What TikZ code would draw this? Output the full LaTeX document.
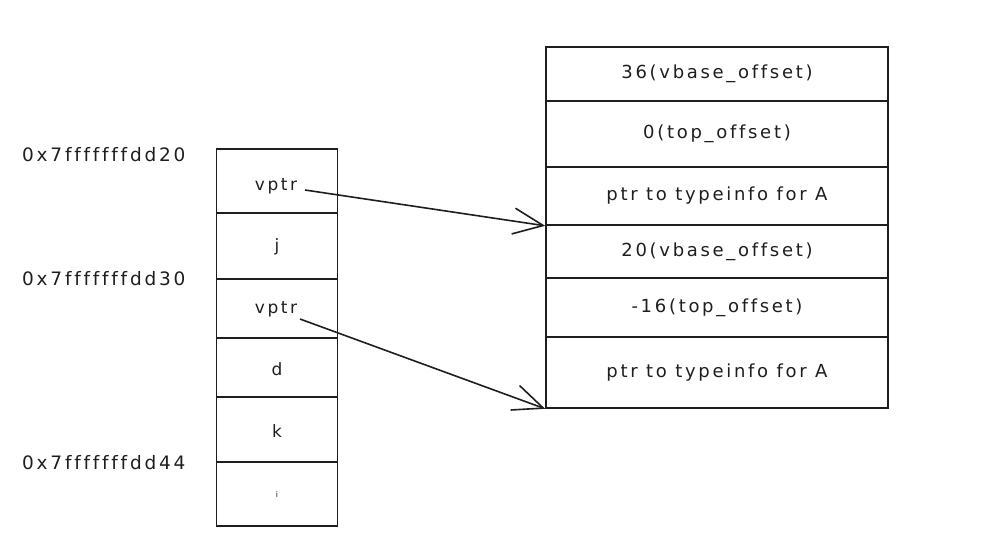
\documentclass[tikz,border=0pt]{standalone}
\usepackage{fontspec}
\setmainfont{DejaVu Sans}
\newfontfamily\handfont{DejaVu Sans}[LetterSpace=15, Ligatures={NoCommon}]
\usetikzlibrary{arrows.meta}
\definecolor{ink}{HTML}{1E1E1E}
\tikzset{
  lcell/.style={draw=ink, line width=1.6pt, minimum width=121pt, inner sep=0pt},
  ctext/.style={text=ink, inner sep=0pt, font=\handfont\fontsize{17}{19}\selectfont},
  rcell/.style={draw=ink, line width=1.6pt, minimum width=342pt, inner sep=0pt, text=ink, font=\handfont\fontsize{18}{20}\selectfont},
  addr/.style={anchor=west, inner sep=0pt, text=ink, font=\handfont\fontsize{18.5}{20}\selectfont},
  ptrarrow/.style={draw=ink, line width=1.6pt, -{Straight Barb[length=30pt,width=26pt,line width=1.6pt]}},
}
\begin{document}
\begin{tikzpicture}[x=1pt,y=-1pt]
\useasboundingbox (0,0) rectangle (999,550);
% left column (stack)
\node[lcell, minimum height=64pt] (c1) at (277,181) {};
\node[lcell, minimum height=66pt] (c2) at (277,246) {};
\node[lcell, minimum height=59pt] (c3) at (277,308.5) {};
\node[lcell, minimum height=59pt] (c4) at (277,367.5) {};
\node[lcell, minimum height=65pt] (c5) at (277,429.5) {};
\node[lcell, minimum height=64pt] (c6) at (277,494) {};
\node[ctext] (v1) at (276,186) {vptr};
\node[ctext] (tj) at (277,247) {j};
\node[ctext] (v2) at (276,309) {vptr};
\node[ctext] (td) at (277,369) {d};
\node[ctext] (tk) at (277,431) {k};
\node[ctext, font=\fontsize{8}{9}\selectfont] (ti) at (277,494) {i};
% addresses
\node[addr] (a1) at (22,155) {0x7fffffffdd20};
\node[addr] (a2) at (22,279) {0x7fffffffdd30};
\node[addr] (a3) at (22,463) {0x7fffffffdd44};
% right table (vtable)
\node[rcell, minimum height=54pt] (t1) at (717,74) {36(vbase\_offset)};
\node[rcell, minimum height=66pt] (t2) at (717,134) {0(top\_offset)};
\node[rcell, minimum height=58pt] (t3) at (717,196) {ptr to typeinfo for A};
\node[rcell, minimum height=53pt] (t4) at (717,251.5) {20(vbase\_offset)};
\node[rcell, minimum height=59pt] (t5) at (717,307.5) {-16(top\_offset)};
\node[rcell, minimum height=71pt] (t6) at (717,372.5) {ptr to typeinfo for A};
% pointers
\coordinate (s1) at (305,190);
\coordinate (s2) at (300,319);
\draw[ptrarrow] (s1) -- (t3.south west);
\draw[ptrarrow] (s2) -- (t6.south west);
\end{tikzpicture}
\end{document}
